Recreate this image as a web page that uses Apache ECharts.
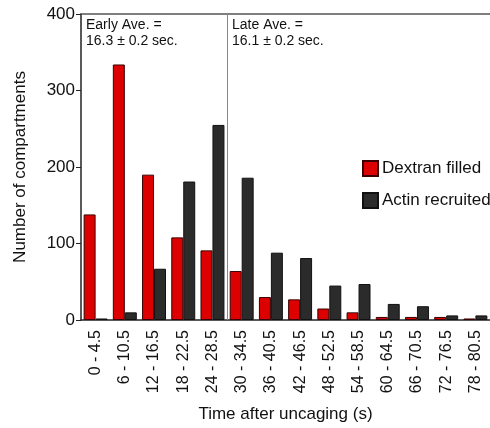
<!DOCTYPE html>
<html>
<head>
<meta charset="utf-8">
<script src="https://cdn.jsdelivr.net/npm/echarts@6/dist/echarts.min.js"></script>
<style>
  html, body { margin: 0; padding: 0; background: #fff; }
  #chart { width: 490px; height: 428px; }
</style>
</head>
<body>
<div id="chart"></div>
<script>
// time bins (s)
const categories = ['0 - 4.5', '6 - 10.5', '12 - 16.5', '18 - 22.5', '24 - 28.5', '30 - 34.5', '36 - 40.5',
  '42 - 46.5', '48 - 52.5', '54 - 58.5', '60 - 64.5', '66 - 70.5', '72 - 76.5', '78 - 80.5'];
const dextranFilled = [138, 334, 190, 108, 91, 64, 30, 27, 15, 10, 4, 4, 4, 2];
const actinRecruited = [2, 10, 67, 181, 255, 186, 88, 81, 45, 47, 21, 18, 6, 6];
const yTicks = [0, 100, 200, 300, 400];
const earlyNote = ['Early Ave. =', '16.3 ± 0.2 sec.'];
const lateNote = ['Late Ave. =', '16.1 ± 0.2 sec.'];

const font = 'Liberation Sans, Arial, sans-serif';
const chart = echarts.init(document.getElementById('chart'));

const option = {
  animation: false,
  textStyle: { fontFamily: font },
  grid: { left: 81, right: 0, top: 14, bottom: 108 },
  legend: {
    orient: 'vertical',
    left: 357, top: 155,
    icon: 'rect',
    itemWidth: 15, itemHeight: 15, itemGap: 15,
    textStyle: { fontSize: 17, color: '#111', fontFamily: font, padding: [0, 0, 0, -1] },
    data: ['Dextran filled', 'Actin recruited']
  },
  xAxis: [{
    type: 'category',
    data: categories,
    name: 'Time after uncaging (s)',
    nameLocation: 'middle',
    nameGap: 86,
    nameTextStyle: { fontSize: 17, color: '#111', fontFamily: font },
    axisLine: { lineStyle: { color: '#222', width: 1.5 } },
    axisTick: { alignWithLabel: true, length: 8, lineStyle: { color: '#222' } },
    axisLabel: { rotate: 90, fontSize: 16, color: '#111', margin: 10, interval: 0, fontFamily: font }
  }, {
    type: 'value',
    position: 'top',
    min: 0, max: categories.length,
    axisLine: { show: true, onZero: false, lineStyle: { color: '#555', width: 1.5 } },
    axisTick: { show: false },
    axisLabel: { show: false },
    splitLine: { show: false }
  }],
  yAxis: {
    type: 'value',
    min: yTicks[0], max: yTicks[yTicks.length - 1], interval: 100,
    name: 'Number of compartments',
    nameLocation: 'middle',
    nameGap: 52,
    nameTextStyle: { fontSize: 17, color: '#111', fontFamily: font },
    axisLine: { show: true, lineStyle: { color: '#222', width: 1.5 } },
    axisTick: { show: true, length: 5, lineStyle: { color: '#222' } },
    axisLabel: { fontSize: 17, color: '#111', margin: 6, fontFamily: font },
    splitLine: { show: false }
  },
  series: [{
    name: 'Dextran filled',
    type: 'bar',
    data: dextranFilled,
    barGap: '0%',
    barCategoryGap: '18%',
    itemStyle: { color: '#dd0000', borderColor: '#3a0000', borderWidth: 1 }
  }, {
    name: 'Actin recruited',
    type: 'bar',
    data: actinRecruited,
    itemStyle: { color: '#2b2b2b', borderColor: '#111', borderWidth: 1 }
  }, {
    type: 'line',
    xAxisIndex: 1,
    data: [],
    markLine: {
      silent: true,
      symbol: 'none',
      label: { show: false },
      lineStyle: { color: '#888', width: 1, type: 'solid' },
      data: [{ xAxis: 5 }]
    }
  }],
  graphic: [{
    type: 'text', left: 86, top: 17,
    style: { text: earlyNote.join('\n'), font: '14px ' + font, fill: '#111', lineHeight: 16 }
  }, {
    type: 'text', left: 232, top: 17,
    style: { text: lateNote.join('\n'), font: '14px ' + font, fill: '#111', lineHeight: 16 }
  }]
};

chart.setOption(option);
window.addEventListener('resize', () => { chart.resize(); });
</script>
</body>
</html>
